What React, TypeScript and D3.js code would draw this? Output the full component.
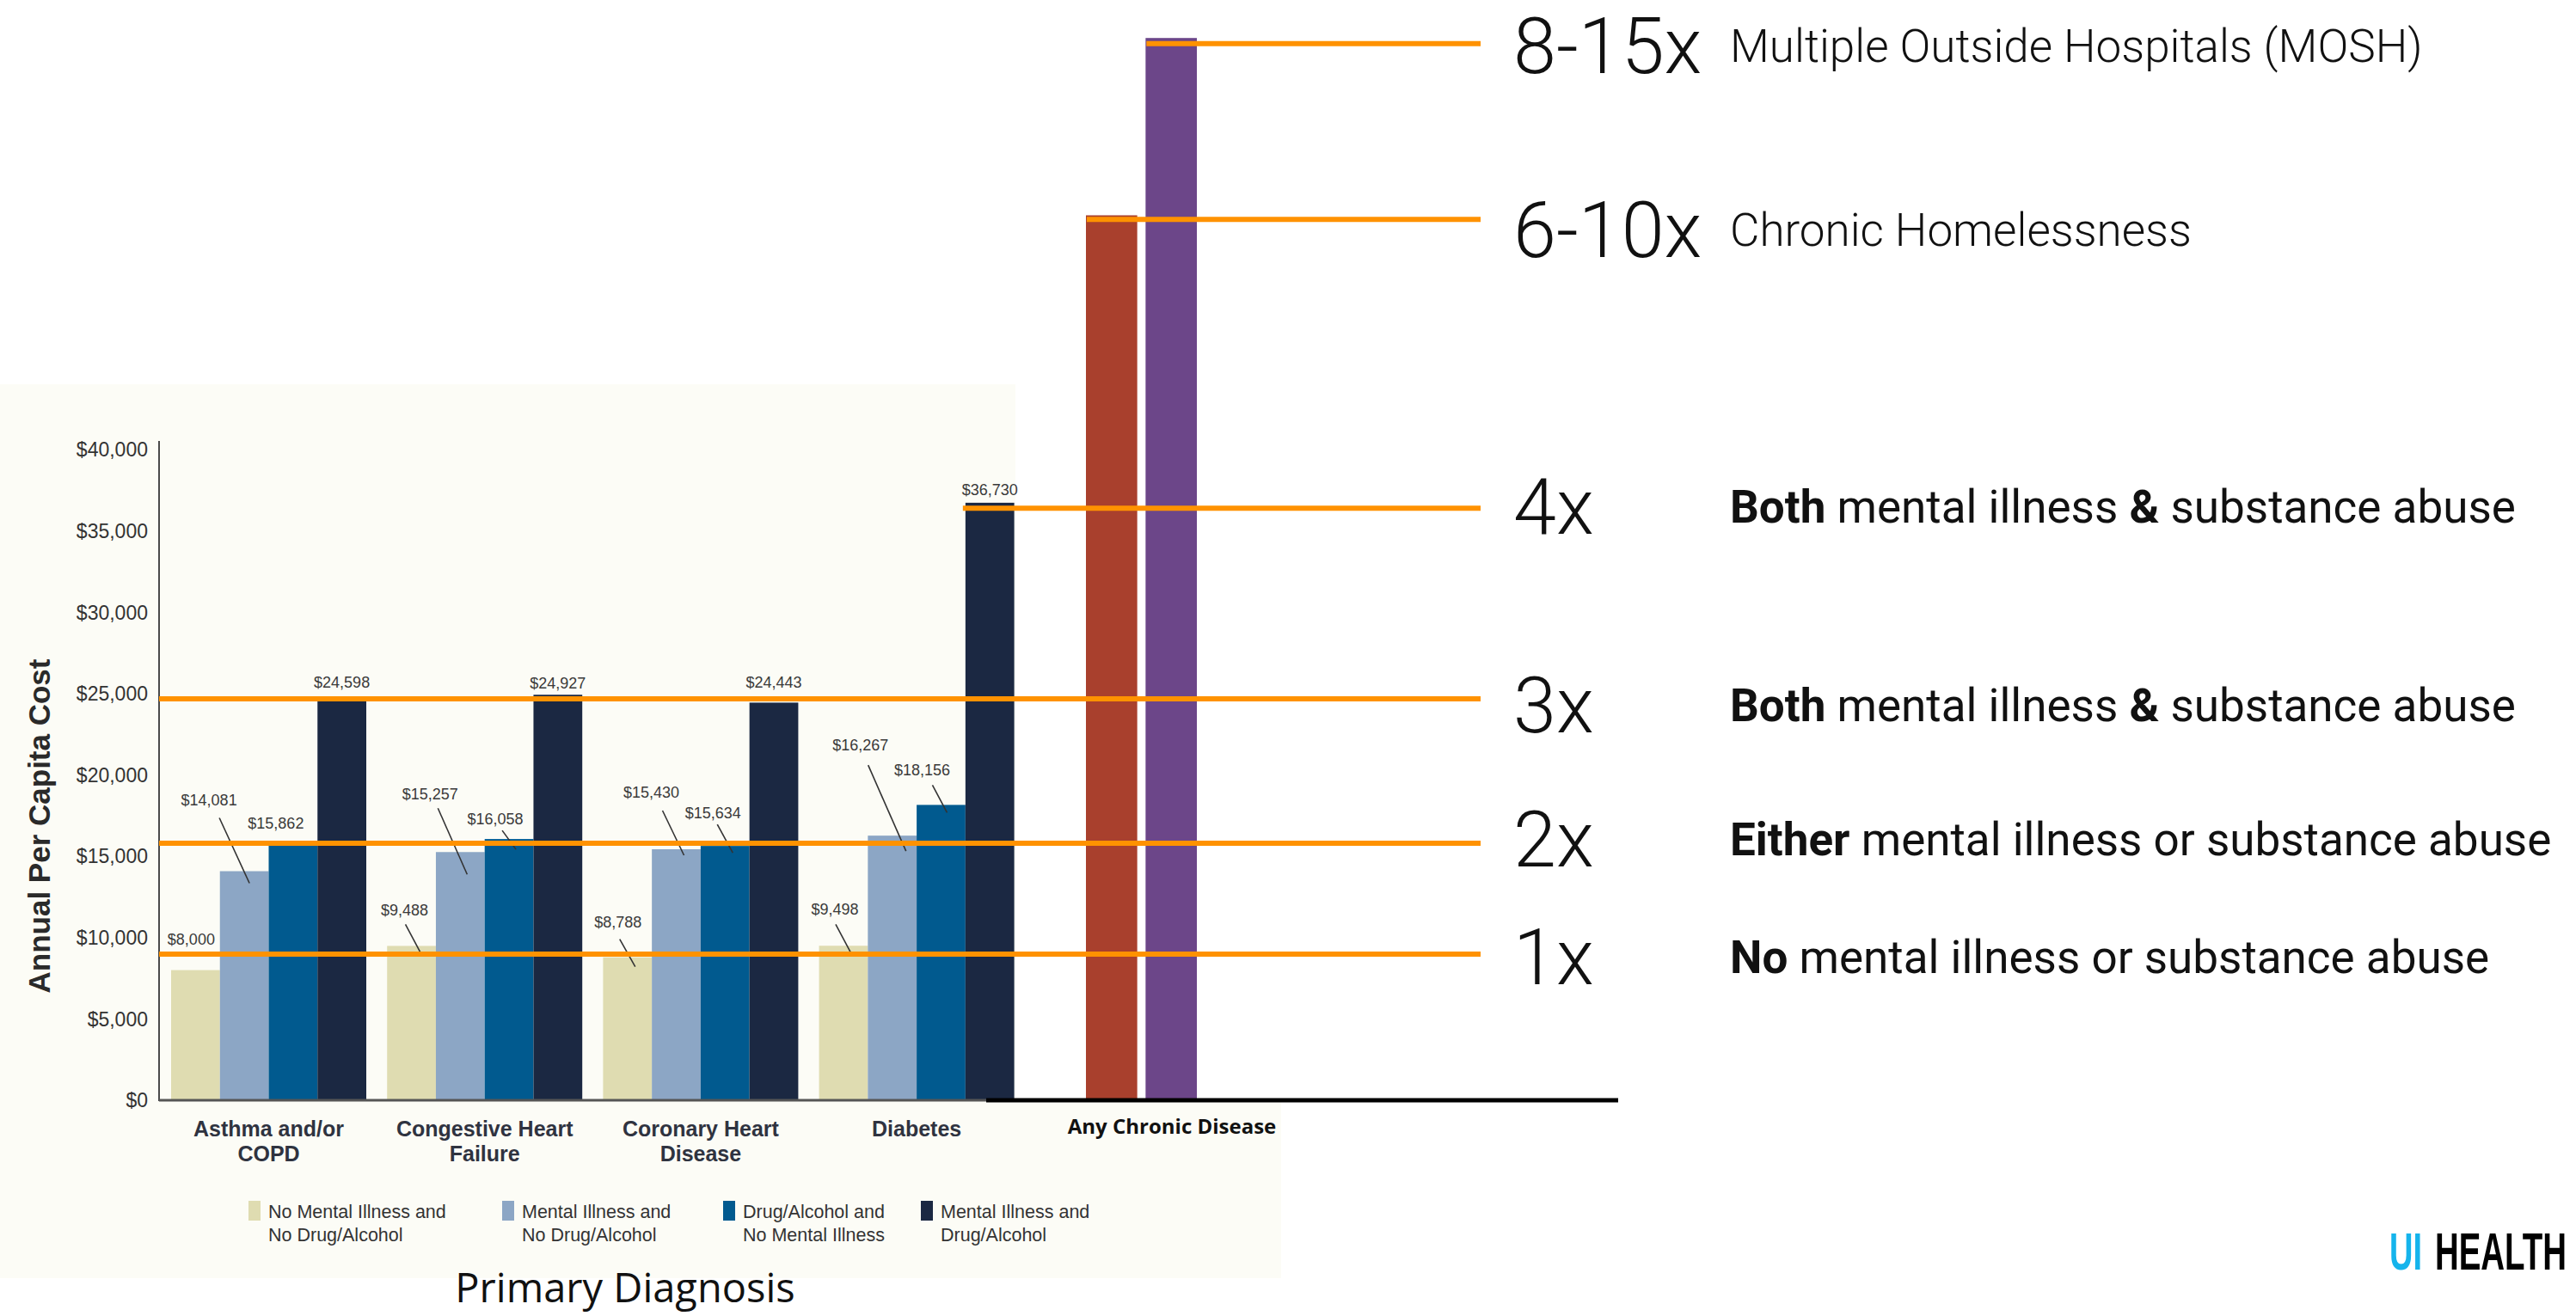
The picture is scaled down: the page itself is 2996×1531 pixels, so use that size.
import React from "react";
import * as d3 from "d3";

// ---------- data ----------
const categories = ["Asthma and/or COPD", "Congestive Heart Failure", "Coronary Heart Disease", "Diabetes"];
const categoryLabelLines = [["Asthma and/or", "COPD"], ["Congestive Heart", "Failure"], ["Coronary Heart", "Disease"], ["Diabetes"]];
const seriesNames = [
  "No Mental Illness and No Drug/Alcohol",
  "Mental Illness and No Drug/Alcohol",
  "Drug/Alcohol and No Mental Illness",
  "Mental Illness and Drug/Alcohol",
];
const legendLines = [
  ["No Mental Illness and", "No Drug/Alcohol"],
  ["Mental Illness and", "No Drug/Alcohol"],
  ["Drug/Alcohol and", "No Mental Illness"],
  ["Mental Illness and", "Drug/Alcohol"],
];
const noMentalNoDrug = [8000, 9488, 8788, 9498];
const mentalNoDrug = [14081, 15257, 15430, 16267];
const drugNoMental = [15862, 16058, 15634, 18156];
const mentalAndDrug = [24598, 24927, 24443, 36730];
const seriesValues = [noMentalNoDrug, mentalNoDrug, drugNoMental, mentalAndDrug];
const yTicks = [0, 5000, 10000, 15000, 20000, 25000, 30000, 35000, 40000];

const chronicCategory = "Any Chronic Disease";
const chronicBars = ["Chronic Homelessness", "Multiple Outside Hospitals (MOSH)"];
const chronicValues = [54400, 65300];

const multiplierLabels = ["1x", "2x", "3x", "4x", "6-10x", "8-15x"];
const multiplierValues = [8980, 15800, 24680, 36400, 54150, 64950];
const multiplierText: [string, boolean][][] = [
  [["No", true], [" mental illness or substance abuse", false]],
  [["Either", true], [" mental illness or substance abuse", false]],
  [["Both", true], [" mental illness ", false], ["&", true], [" substance abuse", false]],
  [["Both", true], [" mental illness ", false], ["&", true], [" substance abuse", false]],
  [["Chronic Homelessness", false]],
  [["Multiple Outside Hospitals (MOSH)", false]],
];
// where each reference line starts: the axis, a diagnosis' last bar, or a chronic bar
const multiplierLineStart = ["axis", "axis", "axis", "Diabetes", "Chronic Homelessness", "Multiple Outside Hospitals (MOSH)"];

const xAxisTitle = "Primary Diagnosis";
const yAxisTitle = "Annual Per Capita Cost";
const logoParts = ["UI", "HEALTH"];

// ---------- styling / layout ----------
const W = 2996;
const H = 1531;
const seriesColors = ["#dfdcb1", "#8ca6c5", "#015a8f", "#1b2842"];
const chronicColors = ["#a9402d", "#6c4689"];
const ORANGE = "#ff9200";
const AXIS_X = 185;
const LINE_END = 1722;

// data label offsets relative to bar (center x, top y); leader [x1,y1,x2,y2]
type LL = { dx: number; dy: number; leader?: number[] };
const labelLayout: LL[][] = [
  [{ dx: -5, dy: -36 }, { dx: -41, dy: -83, leader: [-29, -62, 6, 14] }, { dx: -20, dy: -22 }, { dx: 0, dy: -21 }],
  [{ dx: -8, dy: -42, leader: [-7, -25, 10, 7] }, { dx: -35, dy: -68, leader: [-26, -51, 8, 26] }, { dx: -16, dy: -24, leader: [-8, -10, 8, 12] }, { dx: 0, dy: -14 }],
  [{ dx: -11, dy: -41, leader: [-9, -21, 9, 11] }, { dx: -29, dy: -66, leader: [-16, -45, 9, 7] }, { dx: -14, dy: -39, leader: [-9, -25, 9, 8] }, { dx: 0, dy: -24 }],
  [{ dx: -10, dy: -43, leader: [-9, -25, 8, 7] }, { dx: -37, dy: -106, leader: [-28, -82, 16, 18] }, { dx: -22, dy: -41, leader: [-10, -23, 7, 9] }, { dx: 0, dy: -15 }],
];
const multiplierTextOffset = [3, -5, 7, -2, 12, 2];
const legendX = [289, 584, 841, 1071];

const fmt = d3.format("$,");

export default function App() {
  const y = d3.scaleLinear().domain([0, 40000]).range([1280, 523]);
  const x = d3.scaleBand<string>().domain(categories).range([199, 1179.6]).paddingInner(0.0963).paddingOuter(0);
  const xs = d3.scaleBand<string>().domain(seriesNames).range([0, x.bandwidth()]);
  const xc = d3.scaleBand<string>().domain(chronicBars).range([1263, 1392]).paddingInner(0.14);

  const lineStartX = (anchor: string) => {
    if (anchor === "axis") return AXIS_X;
    if (categories.includes(anchor)) return (x(anchor) ?? 0) + (xs(seriesNames[3]) ?? 0) - 3;
    return (xc(anchor) ?? 0) + 1;
  };

  const base = y(0);

  return (
    <svg width={W} height={H} viewBox={`0 0 ${W} ${H}`} style={{ position: "absolute", left: 0, top: 0, background: "#fff" }}>
      <rect x={0} y={0} width={W} height={H} fill="#ffffff" />
      {/* cream panel of the original chart */}
      <rect x={0} y={447} width={1490} height={1040} fill="#fcfcf6" />
      <rect x={1181} y={447} width={309} height={base - 447} fill="#ffffff" />

      {/* y axis tick labels */}
      {yTicks.map((t) => (
        <text key={t} x={172} y={y(t)} dy="0.36em" textAnchor="end" fontFamily="'Liberation Sans', Arial, sans-serif" fontSize={23} fill="#333">
          {fmt(t)}
        </text>
      ))}
      <text transform={`translate(58, 961) rotate(-90)`} textAnchor="middle" fontFamily="'Liberation Sans', Arial, sans-serif" fontWeight="bold" fontSize={35} fill="#2a2a2a">
        {yAxisTitle}
      </text>

      {/* bars */}
      {categories.map((c, ci) => (
        <g key={c} transform={`translate(${x(c)},0)`}>
          {seriesNames.map((s, si) => {
            const v = seriesValues[si][ci];
            return <rect key={s} x={xs(s)} y={y(v)} width={xs.bandwidth()} height={base - y(v)} fill={seriesColors[si]} />;
          })}
        </g>
      ))}
      {chronicBars.map((b, i) => (
        <rect key={b} x={xc(b)} y={y(chronicValues[i])} width={xc.bandwidth()} height={base - y(chronicValues[i])} fill={chronicColors[i]} />
      ))}

      {/* axes */}
      <line x1={AXIS_X} x2={AXIS_X} y1={513} y2={base + 1} stroke="#4a4a4a" strokeWidth={2} />
      <line x1={AXIS_X} x2={1180} y1={base} y2={base} stroke="#555" strokeWidth={3} />
      <line x1={1147} x2={1882} y1={base} y2={base} stroke="#000" strokeWidth={5} />

      {/* data labels with leaders */}
      {categories.map((c, ci) =>
        seriesNames.map((s, si) => {
          const v = seriesValues[si][ci];
          const cx = (x(c) ?? 0) + (xs(s) ?? 0) + xs.bandwidth() / 2;
          const top = y(v);
          const L = labelLayout[ci][si];
          return (
            <g key={c + s}>
              <text x={cx + L.dx} y={top + L.dy} dy="0.36em" textAnchor="middle" fontFamily="'Liberation Sans', Arial, sans-serif" fontSize={18} fill="#3a3a3a">
                {fmt(v)}
              </text>
              {L.leader && (
                <line x1={cx + L.leader[0]} y1={top + L.leader[1]} x2={cx + L.leader[2]} y2={top + L.leader[3]} stroke="#333" strokeWidth={1.6} />
              )}
            </g>
          );
        })
      )}

      {/* category labels */}
      {categories.map((c, ci) => (
        <text key={c} x={(x(c) ?? 0) + x.bandwidth() / 2} y={1322} textAnchor="middle" fontFamily="'Liberation Sans', Arial, sans-serif" fontWeight="bold" fontSize={25} fill="#2f3340">
          {categoryLabelLines[ci].map((ln, li) => (
            <tspan key={li} x={(x(c) ?? 0) + x.bandwidth() / 2} dy={li === 0 ? 0 : 29}>
              {ln}
            </tspan>
          ))}
        </text>
      ))}
      <text x={1363} y={1319} textAnchor="middle" fontFamily="'Open Sans', 'Noto Sans', sans-serif" fontWeight="bold" fontSize={24} fill="#111">
        {chronicCategory}
      </text>

      {/* legend */}
      {seriesNames.map((s, si) => (
        <g key={s}>
          <rect x={legendX[si]} y={1397} width={14} height={23} fill={seriesColors[si]} />
          {legendLines[si].map((ln, li) => (
            <text key={li} x={legendX[si] + 23} y={1417 + li * 27} fontFamily="'Liberation Sans', Arial, sans-serif" fontSize={21.5} fill="#333">
              {ln}
            </text>
          ))}
        </g>
      ))}
      <text x={727} y={1515} textAnchor="middle" fontFamily="'Open Sans', 'Noto Sans', sans-serif" fontSize={47} fill="#111">
        {xAxisTitle}
      </text>

      {/* multiplier reference lines */}
      {multiplierValues.map((v, i) => (
        <line key={i} x1={lineStartX(multiplierLineStart[i])} x2={LINE_END} y1={y(v)} y2={y(v)} stroke={ORANGE} strokeWidth={6} />
      ))}
      {multiplierLabels.map((lab, i) => {
        const cy = y(multiplierValues[i]) + multiplierTextOffset[i];
        return (
          <g key={lab + i}>
            <text x={1760} y={cy + 32} fontFamily="Roboto, 'Liberation Sans', sans-serif" fontWeight={300} fontSize={90} fill="#111">
              {lab}
            </text>
            <text x={2012} y={cy + 19} fontFamily="Roboto, 'Liberation Sans', sans-serif" fontWeight={i >= 4 ? 300 : 400} fontSize={53} fill="#111">
              {multiplierText[i].map(([t, b], k) => (
                <tspan key={k} fontWeight={b ? 700 : undefined}>
                  {t}
                </tspan>
              ))}
            </text>
          </g>
        );
      })}

      {/* logo (condensed by horizontal scaling) */}
      <text transform="translate(2779,1477) scale(0.623,1)" fontFamily="'Liberation Sans', Arial, sans-serif" fontWeight="bold" fontSize={61} fill="#15b4ec">
        {logoParts[0]}
      </text>
      <text transform="translate(2832,1477) scale(0.63,1)" fontFamily="'Liberation Sans', Arial, sans-serif" fontWeight="bold" fontSize={61} fill="#000">
        {logoParts[1]}
      </text>
    </svg>
  );
}
